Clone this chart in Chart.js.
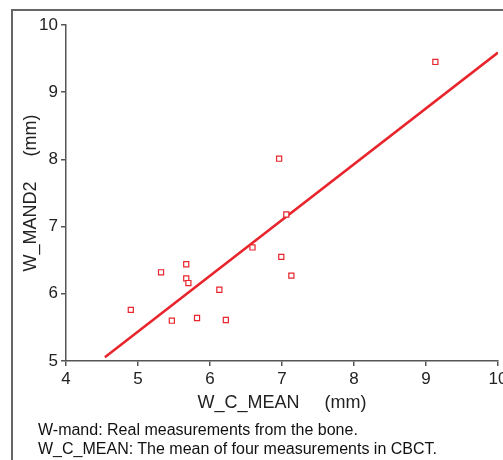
<!DOCTYPE html>
<html>
<head>
<meta charset="utf-8">
<script src="https://cdn.jsdelivr.net/npm/chart.js@4"></script>
<style>
  html, body { margin: 0; padding: 0; width: 503px; height: 460px; overflow: hidden; background: #fff; }
  #frame { position: absolute; left: 11px; top: 9px; width: 600px; height: 600px; border: 2px solid #666; box-sizing: border-box; }
  #wrap { position: absolute; left: 0; top: 0; width: 540px; height: 460px; }
  .note { position: absolute; left: 38px; font-family: "Liberation Sans", Arial, sans-serif; font-size: 16px; line-height: 18px; color: #111; white-space: nowrap; }
</style>
</head>
<body>
<div id="frame"></div>
<div id="wrap"><canvas id="c" width="540" height="460"></canvas></div>
<div class="note" style="top:421px">W-mand: Real measurements from the bone.</div>
<div class="note" style="top:440px">W_C_MEAN: The mean of four measurements in CBCT.</div>
<script>
// Data
const wcMean = [9.13, 6.96, 7.06, 6.59, 6.99, 7.13, 5.67, 5.32, 5.67, 5.70, 6.13, 4.90, 5.47, 5.82, 6.22];
const wMand2 = [9.45, 8.01, 7.18, 6.69, 6.55, 6.27, 6.44, 6.32, 6.23, 6.16, 6.06, 5.76, 5.60, 5.64, 5.61];
const fitX = [4.54, 10.0];
const fitY = [5.055, 9.59];
const xTicks = [4, 5, 6, 7, 8, 9, 10];
const yTicks = [5, 6, 7, 8, 9, 10];
const xTitle = 'W_C_MEAN     (mm)';
const yTitle = 'W_MAND2     (mm)';

const scatterPts = wcMean.map((x, i) => ({ x: x, y: wMand2[i] }));
const fitPts = fitX.map((x, i) => ({ x: x, y: fitY[i] }));

const axisColor = '#555';
const red = '#e8242c';
const tickFont = { family: 'Liberation Sans, Arial, sans-serif', size: 17 };
const titleFont = { family: 'Liberation Sans, Arial, sans-serif', size: 18 };

new Chart(document.getElementById('c'), {
  type: 'scatter',
  data: {
    datasets: [
      {
        type: 'line',
        data: fitPts,
        borderColor: red,
        borderWidth: 2.5,
        pointRadius: 0,
        fill: false,
        order: 2
      },
      {
        data: scatterPts,
        pointStyle: 'rect',
        pointRadius: 3.6,
        pointBorderWidth: 1.2,
        pointBorderColor: red,
        pointBackgroundColor: '#fff',
        order: 1
      }
    ]
  },
  options: {
    responsive: false,
    animation: false,
    devicePixelRatio: 1,
    layout: { padding: { left: 0, top: 25, right: 42, bottom: 0 } },
    plugins: { legend: { display: false }, tooltip: { enabled: false } },
    scales: {
      x: {
        type: 'linear',
        min: 4, max: 10,
        afterBuildTicks: s => { s.ticks = xTicks.map(v => ({ value: v })); },
        afterFit: s => { s.height = 99; },
        border: { display: true, color: axisColor, width: 1.5 },
        grid: { drawOnChartArea: false, drawTicks: true, tickLength: 5, color: axisColor, lineWidth: 1.5 },
        ticks: { color: '#222', font: tickFont, padding: 3, maxRotation: 0, autoSkip: false },
        title: { display: true, text: xTitle, color: '#222', font: titleFont, padding: { top: 0, bottom: 46 } }
      },
      y: {
        type: 'linear',
        min: 5, max: 10,
        afterBuildTicks: s => { s.ticks = yTicks.map(v => ({ value: v })); },
        afterFit: s => { s.width = 66; },
        border: { display: true, color: axisColor, width: 1.5 },
        grid: { drawOnChartArea: false, drawTicks: true, tickLength: 5, color: axisColor, lineWidth: 1.5 },
        ticks: { color: '#222', font: tickFont, padding: 3, autoSkip: false },
        title: { display: true, text: yTitle, color: '#222', font: titleFont, padding: { top: 20, bottom: 0 } }
      }
    }
  }
});
</script>
</body>
</html>
